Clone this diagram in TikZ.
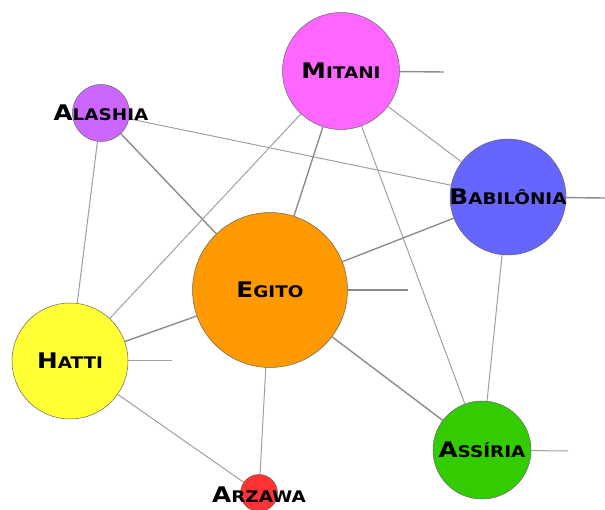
\documentclass[tikz,border=0pt]{standalone}
\usepackage{fontspec}
\newfontfamily\lblfont[FakeStretch=1.15]{DejaVu Sans Bold}
\usetikzlibrary{backgrounds}
\definecolor{cMitani}{HTML}{FF66FF}
\definecolor{cAlashia}{HTML}{CC66FF}
\definecolor{cBabilonia}{HTML}{6666FF}
\definecolor{cEgito}{HTML}{FF9900}
\definecolor{cHatti}{HTML}{FFFF33}
\definecolor{cAssiria}{HTML}{33CC00}
\definecolor{cArzawa}{HTML}{FF3333}
\definecolor{edgegray}{HTML}{A0A0A0}
\newcommand{\lbl}[2]{\lblfont{\fontsize{21.5}{21.5}\selectfont #1}{\fontsize{16}{16}\selectfont #2}}
\tikzset{
  country/.style={circle, draw=black!60, line width=0.5pt, inner sep=0pt},
  link/.style={draw=edgegray, line width=1pt},
  biglink/.style={draw=black!45, line width=1.4pt}
}
\begin{document}
\begin{tikzpicture}[x=1pt,y=-1pt]
\useasboundingbox (0,0) rectangle (605,510);
% countries
\node[country, fill=cMitani, minimum size=117pt, label=center:{\lbl{M}{ITANI}}] (mit) at (341,71) {};
\node[country, fill=cAlashia, minimum size=57pt, label=center:{\lbl{A}{LASHIA}}] (ala) at (101,113) {};
\node[country, fill=cBabilonia, minimum size=116pt, label=center:{\lbl{B}{ABILÔNIA}}] (bab) at (508,197) {};
\node[country, fill=cEgito, minimum size=155pt, label=center:{\lbl{E}{GITO}}] (egi) at (270,290) {};
\node[country, fill=cHatti, minimum size=116pt, label=center:{\lbl{H}{ATTI}}] (hat) at (70,361) {};
\node[country, fill=cAssiria, minimum size=98pt, label=center:{\lbl{A}{SSÍRIA}}] (ass) at (482,450) {};
\node[country, fill=cArzawa, minimum size=37pt, label={[yshift=-2pt]center:{\lbl{A}{RZAWA}}}] (arz) at (259,493) {};
% loose ends
\coordinate (mitS) at (444,72);
\coordinate (babS) at (605,198);
\coordinate (egiS) at (408,290);
\coordinate (hatS) at (172,361);
\coordinate (assS) at (568,451);
\begin{scope}[on background layer]
\draw[link] (ala) -- (bab);
\draw[biglink] (ala) -- (egi);
\draw[link] (ala) -- (hat);
\draw[link] (mit) -- (hat);
\draw[biglink] (mit) -- (egi);
\draw[link] (mit) -- (bab);
\draw[link] (mit) -- (ass);
\draw[biglink] (bab) -- (egi);
\draw[link] (bab) -- (ass);
\draw[biglink] (egi) -- (hat);
\draw[biglink] (egi) -- (ass);
\draw[link] (egi) -- (arz);
\draw[link] (hat) -- (arz);
\draw[biglink] (mit) -- (mitS);
\draw[biglink] (bab) -- (babS);
\draw[biglink] (egi) -- (egiS);
\draw[link] (hat) -- (hatS);
\draw[link] (ass) -- (assS);
\end{scope}
\end{tikzpicture}
\end{document}
